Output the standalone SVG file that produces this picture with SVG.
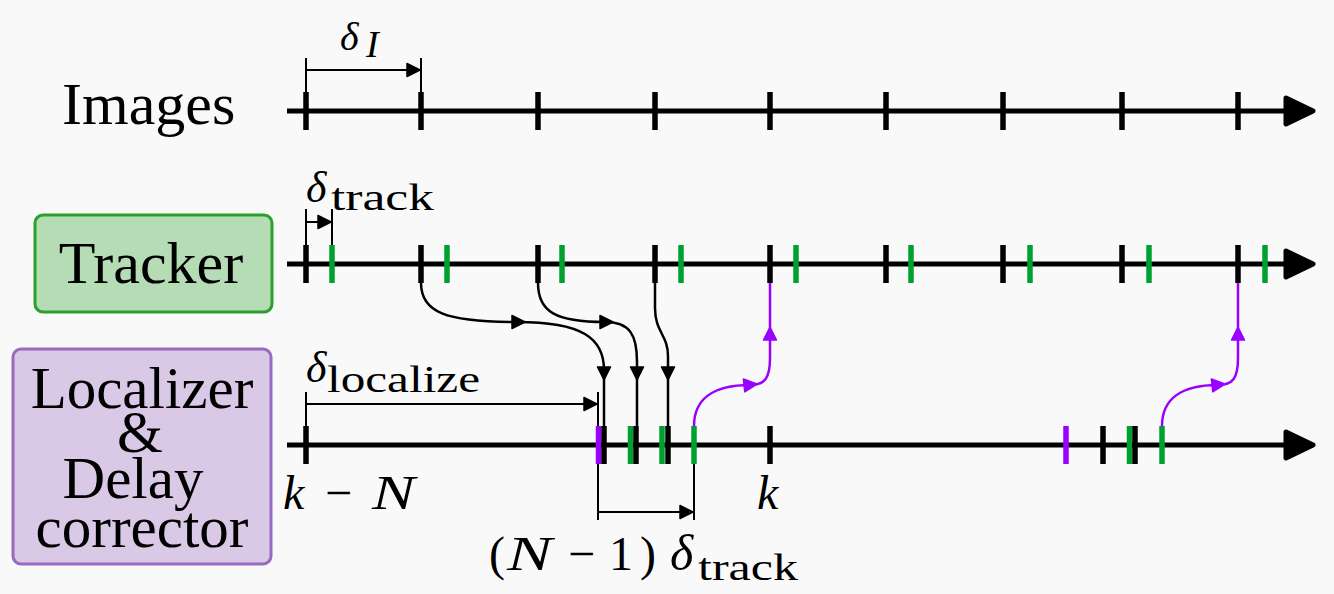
<svg xmlns="http://www.w3.org/2000/svg" xmlns:xlink="http://www.w3.org/1999/xlink" width="1334" height="594" viewBox="0 0 1334 594">
<style>
.bg{fill:#f9f9f9}
.ax{stroke:#000;stroke-width:5;fill:none}
.axh{fill:#000;stroke:#000;stroke-width:5;stroke-linejoin:round}
.tk{stroke:#000;stroke-width:5.5}
.tg{stroke:#00a030;stroke-width:5.5}
.tp{stroke:#9a00ff;stroke-width:5.5}
.thin{stroke:#000;stroke-width:2;fill:none}
.con{stroke:#000;stroke-width:2.5;fill:none}
.pcon{stroke:#9a00ff;stroke-width:2.5;fill:none}
.ahk{fill:#000;stroke:#000;stroke-width:1.5;stroke-linejoin:round}
.ahp{fill:#9a00ff;stroke:#9a00ff;stroke-width:1.5;stroke-linejoin:round}
.lbl{font-family:"Liberation Serif",serif;font-size:60px;fill:#000}
.lbs{font-family:"Liberation Serif",serif;font-size:59px;fill:#000}
.m{font-family:"Liberation Serif",serif;font-style:italic;fill:#000}
.r{font-family:"Liberation Serif",serif;fill:#000}
</style>
<defs>
<path id="ah" d="M-13,-6.5 L0,0 L-13,6.5 Z"/>
</defs>
<rect class="bg" x="0" y="0" width="1334" height="594"/>

<g id="node-images">
<text class="lbl" x="62" y="124">Images</text>
</g>
<g id="node-tracker">
<rect x="35" y="215" width="237" height="97" rx="8" fill="#b6dcb6" stroke="#2ca02c" stroke-width="3"/>
<text class="lbl" x="151" y="283" text-anchor="middle">Tracker</text>
</g>
<g id="node-localizer">
<rect x="13" y="349" width="258" height="215" rx="8" fill="#d9c8e6" stroke="#9a6ac0" stroke-width="3"/>
<text class="lbs" x="142" y="408" text-anchor="middle">Localizer</text>
<text class="lbs" x="140" y="452" text-anchor="middle">&amp;</text>
<text class="lbs" x="133" y="498" text-anchor="middle">Delay</text>
<text class="lbs" x="142" y="547" text-anchor="middle">corrector</text>
</g>

<g id="timelines">
<line class="ax" x1="287" y1="111" x2="1295" y2="111"/>
<polygon class="axh" points="1286,98 1313,111 1286,124"/>
<line class="ax" x1="287" y1="264" x2="1295" y2="264"/>
<polygon class="axh" points="1286,251 1313,264 1286,277"/>
<line class="ax" x1="287" y1="445" x2="1295" y2="445"/>
<polygon class="axh" points="1286,432 1313,445 1286,458"/>

<g id="image-ticks">
<line class="tk" x1="306" y1="92" x2="306" y2="130"/>
<line class="tk" x1="421" y1="92" x2="421" y2="130"/>
<line class="tk" x1="538" y1="92" x2="538" y2="130"/>
<line class="tk" x1="655" y1="92" x2="655" y2="130"/>
<line class="tk" x1="770" y1="92" x2="770" y2="130"/>
<line class="tk" x1="886" y1="92" x2="886" y2="130"/>
<line class="tk" x1="1003" y1="92" x2="1003" y2="130"/>
<line class="tk" x1="1122" y1="92" x2="1122" y2="130"/>
<line class="tk" x1="1238" y1="92" x2="1238" y2="130"/>
</g>
<g id="tracker-ticks">
<line class="tk" x1="306" y1="245" x2="306" y2="283"/>
<line class="tk" x1="421" y1="245" x2="421" y2="283"/>
<line class="tk" x1="538" y1="245" x2="538" y2="283"/>
<line class="tk" x1="655" y1="245" x2="655" y2="283"/>
<line class="tk" x1="770" y1="245" x2="770" y2="283"/>
<line class="tk" x1="886" y1="245" x2="886" y2="283"/>
<line class="tk" x1="1003" y1="245" x2="1003" y2="283"/>
<line class="tk" x1="1122" y1="245" x2="1122" y2="283"/>
<line class="tk" x1="1238" y1="245" x2="1238" y2="283"/>
<line class="tg" x1="332" y1="245" x2="332" y2="283"/>
<line class="tg" x1="447" y1="245" x2="447" y2="283"/>
<line class="tg" x1="562" y1="245" x2="562" y2="283"/>
<line class="tg" x1="681" y1="245" x2="681" y2="283"/>
<line class="tg" x1="796" y1="245" x2="796" y2="283"/>
<line class="tg" x1="911" y1="245" x2="911" y2="283"/>
<line class="tg" x1="1030" y1="245" x2="1030" y2="283"/>
<line class="tg" x1="1149" y1="245" x2="1149" y2="283"/>
<line class="tg" x1="1265" y1="245" x2="1265" y2="283"/>
</g>
<g id="localizer-ticks">
<line class="tk" x1="306" y1="426" x2="306" y2="464"/>
<line class="tp" x1="598.5" y1="426" x2="598.5" y2="464"/>
<line class="tk" x1="604" y1="426" x2="604" y2="464"/>
<line class="tg" x1="630.5" y1="426" x2="630.5" y2="464"/>
<line class="tk" x1="636" y1="426" x2="636" y2="464"/>
<line class="tg" x1="662" y1="426" x2="662" y2="464"/>
<line class="tk" x1="668" y1="426" x2="668" y2="464"/>
<line class="tg" x1="694" y1="426" x2="694" y2="464"/>
<line class="tk" x1="770" y1="426" x2="770" y2="464"/>
<line class="tp" x1="1066" y1="426" x2="1066" y2="464"/>
<line class="tk" x1="1103" y1="426" x2="1103" y2="464"/>
<line class="tg" x1="1129.5" y1="426" x2="1129.5" y2="464"/>
<line class="tk" x1="1135" y1="426" x2="1135" y2="464"/>
<line class="tg" x1="1162" y1="426" x2="1162" y2="464"/>
</g>
</g>

<g id="connectors">
<line class="thin" x1="306" y1="58" x2="306" y2="92"/>
<line class="thin" x1="421" y1="58" x2="421" y2="92"/>
<line class="thin" x1="306" y1="70" x2="412" y2="70"/>
<use xlink:href="#ah" class="ahk" transform="translate(420,70)"/>
<line class="thin" x1="306" y1="209" x2="306" y2="245"/>
<line class="thin" x1="332" y1="209" x2="332" y2="245"/>
<line class="thin" x1="306" y1="222" x2="322" y2="222"/>
<use xlink:href="#ah" class="ahk" transform="translate(331,222)"/>
<line class="thin" x1="306" y1="392" x2="306" y2="426"/>
<line class="thin" x1="598" y1="392" x2="598" y2="426"/>
<line class="thin" x1="306" y1="404" x2="588" y2="404"/>
<use xlink:href="#ah" class="ahk" transform="translate(597,404)"/>
<line class="thin" x1="598" y1="464" x2="598" y2="520"/>
<line class="thin" x1="694" y1="464" x2="694" y2="520"/>
<line class="thin" x1="598" y1="512" x2="684" y2="512"/>
<use xlink:href="#ah" class="ahk" transform="translate(693,512)"/>

<path class="con" d="M421,283 C421,312 445,322 517,322 C582,322 604,338 604,370 L604,426"/>
<use xlink:href="#ah" class="ahk" transform="translate(525,322)"/>
<use xlink:href="#ah" class="ahk" transform="translate(604,380) rotate(90)"/>
<path class="con" d="M538,283 C538,312 556,322 605,322 C630,322 637,335 637,362 L637,426"/>
<use xlink:href="#ah" class="ahk" transform="translate(613,322)"/>
<use xlink:href="#ah" class="ahk" transform="translate(637,380) rotate(90)"/>
<path class="con" d="M655,283 L655,308 C655,332 668,335 668,356 L668,426"/>
<use xlink:href="#ah" class="ahk" transform="translate(668,380) rotate(90)"/>

<path class="pcon" d="M694,426 C694,400 712,385 750,385 C765,385 770,378 770,358 L770,283"/>
<use xlink:href="#ah" class="ahp" transform="translate(757,384) rotate(-6)"/>
<use xlink:href="#ah" class="ahp" transform="translate(770,327) rotate(-90)"/>
<path class="pcon" d="M1162,426 C1162,400 1180,385 1218,385 C1233,385 1238,378 1238,358 L1238,283"/>
<use xlink:href="#ah" class="ahp" transform="translate(1225,384) rotate(-6)"/>
<use xlink:href="#ah" class="ahp" transform="translate(1238,327) rotate(-90)"/>
</g>

<g id="math-labels">
<text class="m" x="340" y="50" font-size="40">δ</text>
<text class="m" x="366" y="57" font-size="38">I</text>

<text class="m" x="306" y="202" font-size="44">δ</text>
<text class="r" x="331" y="210" font-size="38" textLength="103" lengthAdjust="spacingAndGlyphs">track</text>

<text class="m" x="306" y="382" font-size="44">δ</text>
<text class="r" x="327" y="392" font-size="38" textLength="153" lengthAdjust="spacingAndGlyphs">localize</text>

<text class="m" x="283" y="509" font-size="48">k</text>
<text class="r" x="325" y="509" font-size="48">−</text>
<text class="m" x="372" y="509" font-size="48" textLength="43" lengthAdjust="spacingAndGlyphs">N</text>

<text class="m" x="757" y="509" font-size="48">k</text>

<text class="r" x="489" y="570" font-size="48">(</text>
<text class="m" x="507" y="570" font-size="48" textLength="45" lengthAdjust="spacingAndGlyphs">N</text>
<text class="r" x="568" y="570" font-size="48">−</text>
<text class="r" x="609" y="570" font-size="48">1</text>
<text class="r" x="640" y="570" font-size="48">)</text>
<text class="m" x="670" y="570" font-size="50">δ</text>
<text class="r" x="698" y="580" font-size="38" textLength="100" lengthAdjust="spacingAndGlyphs">track</text>
</g>
</svg>
